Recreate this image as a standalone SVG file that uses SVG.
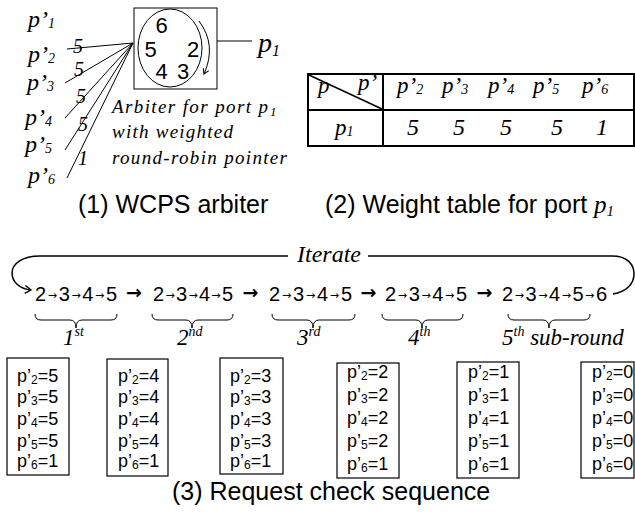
<svg xmlns="http://www.w3.org/2000/svg" width="635" height="514" viewBox="0 0 635 514">
<defs>
<style>
.ser{font-family:"Liberation Serif","Times New Roman",serif;font-style:italic;fill:#000}
.san{font-family:"Liberation Sans",Arial,sans-serif;fill:#000}
.arr{font-family:"DejaVu Sans",sans-serif}
.ln{stroke:#000;stroke-width:1;fill:none}
.thick{stroke:#000;stroke-width:2;fill:none}
.box{stroke:#000;stroke-width:1.2;fill:#fff}
.brace{stroke:#000;stroke-width:1;fill:none}
</style>
<marker id="ah" markerWidth="10" markerHeight="10" refX="7" refY="5" orient="auto" markerUnits="userSpaceOnUse">
<path d="M1,1 L7,5 L1,9" fill="none" stroke="#000" stroke-width="1.4"/>
</marker>
<marker id="ah2" markerWidth="8" markerHeight="8" refX="6" refY="4" orient="auto" markerUnits="userSpaceOnUse">
<path d="M1,1 L6,4 L1,7" fill="none" stroke="#000" stroke-width="1.1"/>
</marker>
</defs>
<rect width="635" height="514" fill="#fff"/>

<!-- (1) WCPS arbiter -->
<g id="arbiter">
<rect x="134" y="8" width="83" height="81" class="ln"/>
<ellipse cx="170" cy="48" rx="32" ry="39" class="ln"/>
<g class="san" font-size="22" text-anchor="middle">
<text x="161.5" y="33">6</text>
<text x="150.5" y="57">5</text>
<text x="193" y="57">2</text>
<text x="161.5" y="79">4</text>
<text x="183" y="79">3</text>
</g>
<path d="M199,21 Q217,45 204,74" class="ln" marker-end="url(#ah2)"/>
</g>

<g id="output-p1">
<text class="ser" x="258" y="52" font-size="28">p<tspan font-size="16" dy="4">1</tspan></text>
</g>

<g id="inputs" class="ser" font-size="24">
<text x="28" y="27">p’<tspan font-size="14" dy="1">1</tspan></text>
<text x="28" y="62">p’<tspan font-size="14" dy="1">2</tspan></text>
<text x="27" y="90">p’<tspan font-size="14" dy="1">3</tspan></text>
<text x="25" y="125">p’<tspan font-size="14" dy="1">4</tspan></text>
<text x="25" y="152">p’<tspan font-size="14" dy="1">5</tspan></text>
<text x="28" y="183">p’<tspan font-size="14" dy="1">6</tspan></text>
</g>

<g id="connectors">
<line x1="217" y1="41" x2="252" y2="41" class="ln"/>
<line x1="133" y1="43" x2="67" y2="49" class="ln"/>
<line x1="133" y1="43" x2="65" y2="83" class="ln"/>
<line x1="133" y1="43" x2="65" y2="118" class="ln"/>
<line x1="133" y1="43" x2="65" y2="150" class="ln"/>
<line x1="133" y1="43" x2="67" y2="178" class="ln"/>
<path d="M288,256 L40,256 C22,256 12,264 12,273 C12,282 20,289 31,290" stroke="#000" stroke-width="1.5" fill="none" marker-end="url(#ah)"/>
<path d="M368,256 L612,256 C628,256 634,265 634,274 C634,284 626,292 613,294" stroke="#000" stroke-width="1.5" fill="none"/>
</g>

<g id="weights" class="ser" font-size="20">
<text x="73" y="53">5</text>
<text x="74" y="76">5</text>
<text x="76" y="103">5</text>
<text x="78" y="131">5</text>
<text x="78" y="165">1</text>
</g>

<g id="arbiter-caption" class="ser" font-size="19">
<text x="112" y="113" textLength="156" lengthAdjust="spacing">Arbiter for port p</text>
<text x="270" y="116" font-size="13">1</text>
<text x="112" y="138" textLength="121" lengthAdjust="spacing">with weighted</text>
<text x="112" y="164" textLength="175" lengthAdjust="spacing">round-robin pointer</text>
</g>

<text class="san" x="78" y="213" font-size="25">(1) WCPS arbiter</text>

<!-- (2) Weight table -->
<g id="weight-table">
<rect x="308" y="74" width="326" height="72" class="thick"/>
<line x1="308" y1="110" x2="634" y2="110" class="thick"/>
<line x1="383" y1="74" x2="383" y2="146" class="thick"/>
<line x1="309" y1="75" x2="382" y2="109" stroke="#000" stroke-width="1.5"/>
<g class="ser" font-size="23">
<text x="318" y="93">p</text>
<text x="358" y="90">p’</text>
<text x="397" y="93">p’<tspan font-size="14" dy="1">2</tspan></text>
<text x="442" y="93">p’<tspan font-size="14" dy="1">3</tspan></text>
<text x="488" y="93">p’<tspan font-size="14" dy="1">4</tspan></text>
<text x="533" y="93">p’<tspan font-size="14" dy="1">5</tspan></text>
<text x="582" y="93">p’<tspan font-size="14" dy="1">6</tspan></text>
<text x="335" y="135">p<tspan font-size="14" dy="1">1</tspan></text>
</g>
<g class="ser" font-size="24" text-anchor="middle">
<text x="413" y="135">5</text>
<text x="459" y="135">5</text>
<text x="506" y="135">5</text>
<text x="557" y="135">5</text>
<text x="602" y="135">1</text>
</g>
</g>

<text class="san" x="325" y="213" font-size="25">(2) Weight table for port <tspan class="ser">p</tspan><tspan class="ser" font-size="15" dy="3">1</tspan></text>

<!-- (3) Request check sequence -->
<text id="iterate" class="ser" x="297" y="262" font-size="24">Iterate</text>

<g id="sequences" class="san" font-size="20">
<text x="35" y="301" textLength="82" lengthAdjust="spacing">2<tspan class="arr" font-size="11" dy="-2">→</tspan><tspan dy="2">3</tspan><tspan class="arr" font-size="11" dy="-2">→</tspan><tspan dy="2">4</tspan><tspan class="arr" font-size="11" dy="-2">→</tspan><tspan dy="2">5</tspan></text>
<text x="153" y="301" textLength="80" lengthAdjust="spacing">2<tspan class="arr" font-size="11" dy="-2">→</tspan><tspan dy="2">3</tspan><tspan class="arr" font-size="11" dy="-2">→</tspan><tspan dy="2">4</tspan><tspan class="arr" font-size="11" dy="-2">→</tspan><tspan dy="2">5</tspan></text>
<text x="269" y="301" textLength="83" lengthAdjust="spacing">2<tspan class="arr" font-size="11" dy="-2">→</tspan><tspan dy="2">3</tspan><tspan class="arr" font-size="11" dy="-2">→</tspan><tspan dy="2">4</tspan><tspan class="arr" font-size="11" dy="-2">→</tspan><tspan dy="2">5</tspan></text>
<text x="385" y="301" textLength="82" lengthAdjust="spacing">2<tspan class="arr" font-size="11" dy="-2">→</tspan><tspan dy="2">3</tspan><tspan class="arr" font-size="11" dy="-2">→</tspan><tspan dy="2">4</tspan><tspan class="arr" font-size="11" dy="-2">→</tspan><tspan dy="2">5</tspan></text>
<text x="502" y="301" textLength="105" lengthAdjust="spacing">2<tspan class="arr" font-size="11" dy="-2">→</tspan><tspan dy="2">3</tspan><tspan class="arr" font-size="11" dy="-2">→</tspan><tspan dy="2">4</tspan><tspan class="arr" font-size="11" dy="-2">→</tspan><tspan dy="2">5</tspan><tspan class="arr" font-size="11" dy="-2">→</tspan><tspan dy="2">6</tspan></text>
</g>
<g id="step-arrows" class="arr" font-size="19" font-weight="bold" text-anchor="middle">
<text x="134" y="299">→</text>
<text x="250.5" y="299">→</text>
<text x="368.5" y="299">→</text>
<text x="484.5" y="299">→</text>
</g>

<g id="braces" class="brace">
<path d="M35,314 Q35,320 41,320 L70,320 Q76,320 76,328 Q76,320 82,320 L111,320 Q117,320 117,314"/>
<path d="M152,314 Q152,320 158,320 L186,320 Q192,320 192,328 Q192,320 198,320 L227,320 Q233,320 233,314"/>
<path d="M272,314 Q272,320 278,320 L307,320 Q313,320 313,328 Q313,320 319,320 L349,320 Q355,320 355,314"/>
<path d="M382,314 Q382,320 388,320 L416,320 Q422,320 422,328 Q422,320 428,320 L457,320 Q463,320 463,314"/>
<path d="M508,314 Q508,320 514,320 L543,320 Q549,320 549,328 Q549,320 555,320 L584,320 Q590,320 590,314"/>
</g>

<g id="ordinals" class="ser" font-size="23">
<text x="63" y="345">1<tspan font-size="14" dy="-9">st</tspan></text>
<text x="177" y="345">2<tspan font-size="14" dy="-9">nd</tspan></text>
<text x="297" y="345">3<tspan font-size="14" dy="-9">rd</tspan></text>
<text x="408" y="345">4<tspan font-size="14" dy="-9">th</tspan></text>
<text x="502" y="345">5<tspan font-size="14" dy="-9">th</tspan><tspan dy="9"> sub-round</tspan></text>
</g>

<g id="counter-box-1">
<rect x="7" y="358" width="62" height="117" class="box"/>
<g class="san" font-size="18">
<text x="17" y="382">p’<tspan font-size="12" dy="2">2</tspan><tspan dy="-2">=5</tspan></text>
<text x="17" y="403">p’<tspan font-size="12" dy="2">3</tspan><tspan dy="-2">=5</tspan></text>
<text x="17" y="425">p’<tspan font-size="12" dy="2">4</tspan><tspan dy="-2">=5</tspan></text>
<text x="17" y="447">p’<tspan font-size="12" dy="2">5</tspan><tspan dy="-2">=5</tspan></text>
<text x="17" y="467">p’<tspan font-size="12" dy="2">6</tspan><tspan dy="-2">=1</tspan></text>
</g>
</g>
<g id="counter-box-2">
<rect x="107" y="359" width="61" height="117" class="box"/>
<g class="san" font-size="18">
<text x="118" y="382">p’<tspan font-size="12" dy="2">2</tspan><tspan dy="-2">=4</tspan></text>
<text x="118" y="403">p’<tspan font-size="12" dy="2">3</tspan><tspan dy="-2">=4</tspan></text>
<text x="118" y="425">p’<tspan font-size="12" dy="2">4</tspan><tspan dy="-2">=4</tspan></text>
<text x="118" y="447">p’<tspan font-size="12" dy="2">5</tspan><tspan dy="-2">=4</tspan></text>
<text x="118" y="467">p’<tspan font-size="12" dy="2">6</tspan><tspan dy="-2">=1</tspan></text>
</g>
</g>
<g id="counter-box-3">
<rect x="220" y="358" width="63" height="116" class="box"/>
<g class="san" font-size="18">
<text x="230" y="382">p’<tspan font-size="12" dy="2">2</tspan><tspan dy="-2">=3</tspan></text>
<text x="230" y="403">p’<tspan font-size="12" dy="2">3</tspan><tspan dy="-2">=3</tspan></text>
<text x="230" y="425">p’<tspan font-size="12" dy="2">4</tspan><tspan dy="-2">=3</tspan></text>
<text x="230" y="447">p’<tspan font-size="12" dy="2">5</tspan><tspan dy="-2">=3</tspan></text>
<text x="230" y="467">p’<tspan font-size="12" dy="2">6</tspan><tspan dy="-2">=1</tspan></text>
</g>
</g>
<g id="counter-box-4">
<rect x="337" y="363" width="62" height="115" class="box"/>
<g class="san" font-size="18">
<text x="347" y="378">p’<tspan font-size="12" dy="2">2</tspan><tspan dy="-2">=2</tspan></text>
<text x="347" y="401">p’<tspan font-size="12" dy="2">3</tspan><tspan dy="-2">=2</tspan></text>
<text x="347" y="424">p’<tspan font-size="12" dy="2">4</tspan><tspan dy="-2">=2</tspan></text>
<text x="347" y="447">p’<tspan font-size="12" dy="2">5</tspan><tspan dy="-2">=2</tspan></text>
<text x="347" y="470">p’<tspan font-size="12" dy="2">6</tspan><tspan dy="-2">=1</tspan></text>
</g>
</g>
<g id="counter-box-5">
<rect x="457" y="362" width="62" height="116" class="box"/>
<g class="san" font-size="18">
<text x="468" y="378">p’<tspan font-size="12" dy="2">2</tspan><tspan dy="-2">=1</tspan></text>
<text x="468" y="401">p’<tspan font-size="12" dy="2">3</tspan><tspan dy="-2">=1</tspan></text>
<text x="468" y="424">p’<tspan font-size="12" dy="2">4</tspan><tspan dy="-2">=1</tspan></text>
<text x="468" y="447">p’<tspan font-size="12" dy="2">5</tspan><tspan dy="-2">=1</tspan></text>
<text x="468" y="470">p’<tspan font-size="12" dy="2">6</tspan><tspan dy="-2">=1</tspan></text>
</g>
</g>
<g id="counter-box-6">
<rect x="581" y="362" width="53" height="116" class="box"/>
<g class="san" font-size="18">
<text x="592" y="378">p’<tspan font-size="12" dy="2">2</tspan><tspan dy="-2">=0</tspan></text>
<text x="592" y="401">p’<tspan font-size="12" dy="2">3</tspan><tspan dy="-2">=0</tspan></text>
<text x="592" y="424">p’<tspan font-size="12" dy="2">4</tspan><tspan dy="-2">=0</tspan></text>
<text x="592" y="447">p’<tspan font-size="12" dy="2">5</tspan><tspan dy="-2">=0</tspan></text>
<text x="592" y="470">p’<tspan font-size="12" dy="2">6</tspan><tspan dy="-2">=0</tspan></text>
</g>
</g>

<text class="san" x="172" y="500" font-size="25">(3) Request check sequence</text>
</svg>
